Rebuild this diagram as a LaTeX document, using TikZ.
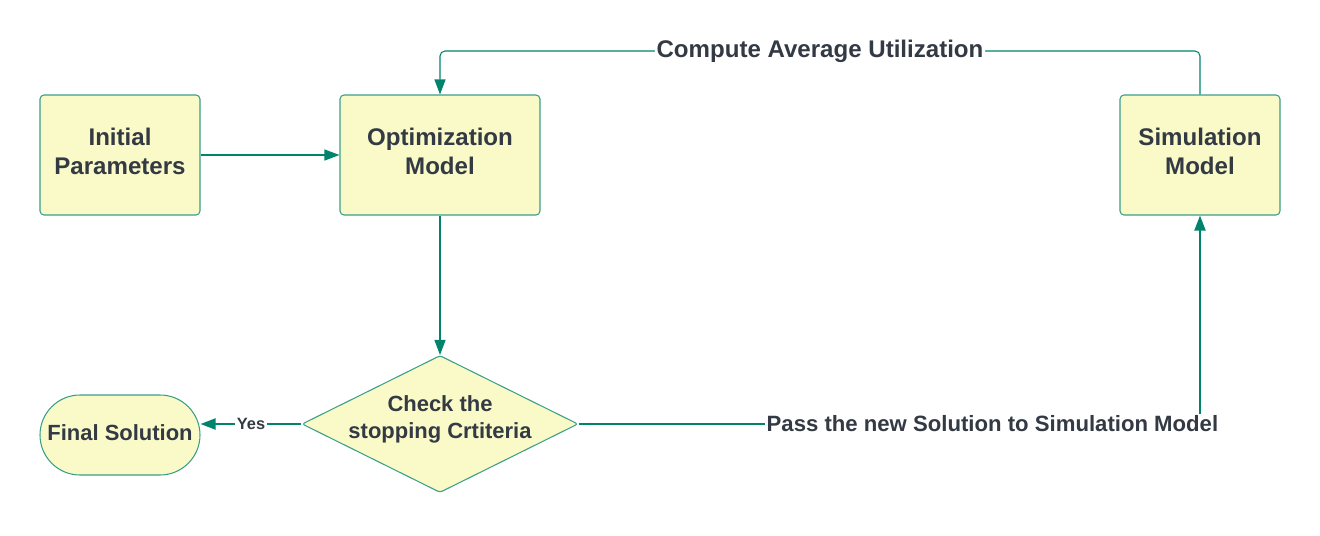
\documentclass[tikz,border=0pt]{standalone}
\usepackage{fontspec}
\setmainfont{Liberation Sans}
\usetikzlibrary{arrows.meta}
\usetikzlibrary{positioning}
\usetikzlibrary{shapes.geometric}
\definecolor{boxfill}{HTML}{FAFAC8}
\definecolor{boxline}{HTML}{3A9E88}
\definecolor{flowline}{HTML}{00846C}
\definecolor{labeltext}{HTML}{333A44}
\tikzset{block/.style = {draw=boxline, fill=boxfill, rounded corners=0.08cm, line width=0.6pt,
                         text=labeltext, align=center, inner sep=0, text depth=4.5pt,
                         font=\bfseries\fontsize{13.7}{16.5}\selectfont}}
\tikzset{flow/.style = {draw=flowline, line width=0.6pt,
                        -{Triangle[length=0.3cm, width=0.22cm]}}}
\tikzset{thickflow/.style = {flow, line width=1.1pt}}
\tikzset{edgelabel/.style = {fill=white, text=labeltext, inner sep=1pt,
                             font=\bfseries\fontsize{13.7}{16}\selectfont}}

\begin{document}
\begin{tikzpicture}
      \useasboundingbox (0, 0) rectangle (26.4, -10.7);
      \node [block, minimum width=3.2cm, minimum height=2.4cm] (init) at (2.4, -3.1) {Initial\\Parameters};
      \node [block, minimum width=4cm, minimum height=2.4cm] (opt) at (8.8, -3.1) {Optimization\\Model};
      \node [block, minimum width=3.2cm, minimum height=2.4cm] (sim) at (24, -3.1) {Simulation\\Model};
      \node [block, diamond, rounded corners=0.05cm, inner sep=-5pt, aspect=2, text depth=8pt,
             minimum width=5.52cm, minimum height=2.74cm,
             font=\bfseries\fontsize{12.5}{15}\selectfont] (check) at (8.8, -8.48) {Check the\\stopping Crtiteria};
      \node [block, rounded corners=0.8cm, minimum width=3.2cm, minimum height=1.6cm, text depth=2.5pt,
             font=\bfseries\fontsize{12.5}{15}\selectfont] (final) at (2.4, -8.7) {Final Solution};
      \coordinate (top) at (16.4, -1.02);
      \draw [flow] (init) -- (opt);
      \draw [flow] (opt) -- (check);
      \draw [thickflow] (check.west) -- node [edgelabel, font=\bfseries\fontsize{9.3}{11}\selectfont] {Yes}
            (check.west -| final.east);
      \draw [thickflow] (check.east) -- node [edgelabel, pos=0.666, font=\bfseries\fontsize{12.6}{15}\selectfont]
            {Pass the new Solution to Simulation Model} (check.east -| sim.south) -- (sim.south);
      \draw [flow, rounded corners=0.1cm] (sim.north) -- (sim.north |- top)
            -- node [edgelabel] {Compute Average Utilization} (opt.north |- top) -- (opt.north);
    \end{tikzpicture}
\end{document}
